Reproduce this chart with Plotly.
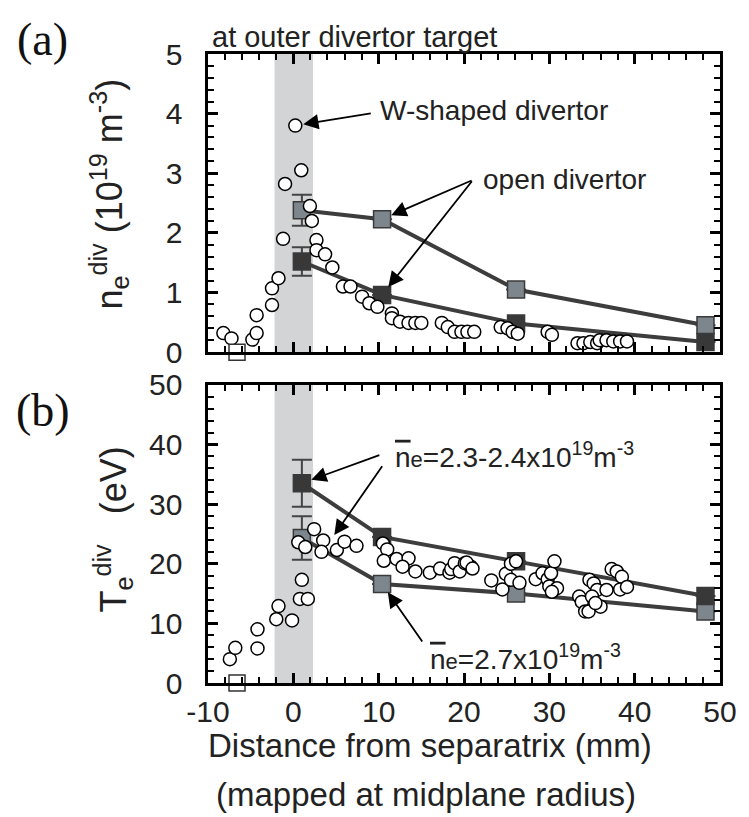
import plotly.graph_objects as go

# ---------------- data ----------------
ne_W_x = [-8.2, -7.25, -4.8, -4.3, -4.3, -2.5, -2.5, -1.74, -1.2, -0.97, 0.23, 0.93, 1.94, 2.17,
          2.71, 2.71, 3.72, 4.57, 5.81, 6.7, 8.06, 8.9, 9.85, 11.55, 11.55, 12.5, 13.5, 14.3, 15.0,
          17.4, 18.1, 18.9, 19.7, 20.4, 21.2, 24.3, 25.1, 25.7, 26.3, 29.8, 30.3, 33.3, 34.0, 34.8,
          35.6, 35.9, 36.7, 37.5, 38.3, 39.1]
ne_W_y = [0.32, 0.23, 0.21, 0.32, 0.62, 0.79, 1.07, 1.24, 1.90, 2.82, 3.80, 3.05, 2.45, 2.20,
          1.88, 1.71, 1.64, 1.42, 1.10, 1.10, 0.93, 0.82, 0.76, 0.65, 0.57, 0.51, 0.49, 0.49, 0.49,
          0.49, 0.42, 0.34, 0.34, 0.34, 0.34, 0.42, 0.40, 0.34, 0.31, 0.34, 0.29, 0.15, 0.15, 0.17,
          0.15, 0.20, 0.20, 0.18, 0.18, 0.18]

probe_x = [1.0, 10.4, 26.1, 48.3]
ne_hi = [2.38, 2.23, 1.05, 0.45]          # ne_bar = 2.7 (gray)
ne_hi_err = [0.26, None, None, None]
ne_lo = [1.52, 0.96, 0.48, 0.17]          # ne_bar = 2.3-2.4 (dark)
ne_lo_err = [0.24, None, None, None]

ref_x = [-6.6]
ref_y = [0.0]

Te_W_x = [-7.44, -6.8, -4.2, -4.2, -2.0, -1.74, -0.15, 0.77, 1.7, 1.0, 0.58, 1.4, 2.44, 3.5, 3.3,
          5.1, 6.0, 7.4, 10.5, 11.0, 10.6, 12.1, 13.5, 12.8, 14.3, 16.0, 17.2, 18.3, 18.5, 18.9,
          19.5, 20.1, 20.8, 20.3, 21.0, 23.2, 24.5, 24.9, 25.5, 25.5, 26.1, 26.5, 28.4, 29.2, 29.8,
          30.2, 30.6, 30.0, 30.9, 30.3, 33.5, 33.8, 34.2, 34.6, 34.7, 35.2, 35.6, 36.0, 35.0, 35.4,
          36.7, 37.3, 37.9, 38.5, 38.3, 39.1]
Te_W_y = [4.0, 5.9, 5.8, 9.0, 10.7, 12.9, 10.5, 14.1, 14.1, 17.3, 23.6, 22.8, 25.8, 23.9, 22.0,
          22.3, 23.7, 23.0, 23.4, 22.4, 20.5, 20.8, 20.9, 19.5, 18.7, 18.5, 19.2, 18.5, 19.1, 20.1,
          18.7, 20.1, 19.5, 20.2, 19.2, 17.2, 15.7, 18.3, 17.3, 20.0, 20.4, 16.8, 17.4, 18.4, 17.4,
          18.4, 20.4, 16.2, 15.9, 15.3, 14.5, 13.6, 12.0, 12.0, 17.3, 16.7, 15.6, 12.8, 14.5, 13.4,
          15.6, 19.1, 18.7, 17.8, 15.7, 16.1]

Te_lo = [33.5, 24.5, 20.4, 14.6]          # ne_bar = 2.3-2.4 (dark)
Te_lo_err = [3.95, None, None, None]
Te_hi = [24.3, 16.6, 15.0, 12.0]          # ne_bar = 2.7 (gray)
Te_hi_err = [3.65, None, None, None]

band = [-2.2, 2.3]                        # shaded separatrix region (mm)
x_range = [-10, 50]
ne_range = [0, 5]
Te_range = [0, 50]

x_ticks = [-10, 0, 10, 20, 30, 40, 50]
x_ticktext = ["-10", "0", "10", "20", "30", "40", "50"]
ne_ticks = [0, 1, 2, 3, 4, 5]
ne_ticktext = ["0", "1", "2", "3", "4", "5"]
Te_ticks = [0, 10, 20, 30, 40, 50]
Te_ticktext = ["0", "10", "20", "30", "40", "50"]

# ---------------- layout geometry / styles ----------------
W, H = 749, 817
M = dict(l=208, r=26, t=54, b=134)
PLOT_W = W - M["l"] - M["r"]
PLOT_H = H - M["t"] - M["b"]
dom_a = [0.526, 1]
dom_b = [0, 0.474]
PX_X = PLOT_W / (x_range[1] - x_range[0])
PX_YA = PLOT_H * (dom_a[1] - dom_a[0]) / (ne_range[1] - ne_range[0])
PX_YB = PLOT_H * (dom_b[1] - dom_b[0]) / (Te_range[1] - Te_range[0])

DARK = "#383838"
GRAY = "#7e868d"
LINE = "#3d3d3d"
FONT = "Liberation Sans"
NB = "\u00a0\u00a0"

fig = go.Figure()

def band_fill(yr, xa, ya):
    fig.add_trace(go.Scatter(x=[band[0], band[1], band[1], band[0], band[0]],
                             y=[yr[0], yr[0], yr[1], yr[1], yr[0]],
                             mode="lines", fill="toself", fillcolor="#d3d4d6",
                             line=dict(width=0, color="#d3d4d6"),
                             xaxis=xa, yaxis=ya, showlegend=False, hoverinfo="skip"))

def probe_series(xs, ys, err, fill, xa, ya):
    fig.add_trace(go.Scatter(x=xs, y=ys, mode="lines+markers",
                             line=dict(color=LINE, width=4),
                             marker=dict(symbol="square", size=17, color=fill,
                                         line=dict(color="#3a3a3a", width=1.5)),
                             error_y=dict(type="data", array=err, color="#444444",
                                          thickness=2, width=10),
                             xaxis=xa, yaxis=ya, showlegend=False, cliponaxis=False))

def circles(xs, ys, xa, ya):
    fig.add_trace(go.Scatter(x=xs, y=ys, mode="markers",
                             marker=dict(symbol="circle", size=13, color="white",
                                         line=dict(color="black", width=1.5)),
                             xaxis=xa, yaxis=ya, showlegend=False, cliponaxis=False))

def ref_square(xa, ya):
    fig.add_trace(go.Scatter(x=ref_x, y=ref_y, mode="markers",
                             marker=dict(symbol="square", size=16, color="white",
                                         line=dict(color="#333333", width=1.5)),
                             xaxis=xa, yaxis=ya, showlegend=False, cliponaxis=False))

band_fill(ne_range, "x", "y")
probe_series(probe_x, ne_hi, ne_hi_err, GRAY, "x", "y")
probe_series(probe_x, ne_lo, ne_lo_err, DARK, "x", "y")
circles(ne_W_x, ne_W_y, "x", "y")
ref_square("x", "y")

band_fill(Te_range, "x2", "y2")
probe_series(probe_x, Te_hi, Te_hi_err, GRAY, "x2", "y2")
probe_series(probe_x, Te_lo, Te_lo_err, DARK, "x2", "y2")
circles(Te_W_x, Te_W_y, "x2", "y2")
ref_square("x2", "y2")

def ax_style(minor_dtick, **kw):
    d = dict(showline=True, linewidth=3, linecolor="black", mirror="allticks",
             ticks="inside", ticklen=10, tickwidth=3, tickcolor="black",
             showgrid=False, zeroline=False,
             minor=dict(ticks="inside", dtick=minor_dtick, ticklen=6, tickwidth=2,
                        tickcolor="black"),
             tickfont=dict(family=FONT, size=30, color="#222222"))
    d.update(kw)
    return d

fig.update_layout(
    width=W, height=H, margin=M, plot_bgcolor="white",
    xaxis=ax_style(2, domain=[0, 1], anchor="y", range=x_range, tickvals=x_ticks,
                   showticklabels=False),
    yaxis=ax_style(0.2, domain=dom_a, anchor="x", range=ne_range, tickvals=ne_ticks,
                   ticktext=[t + NB for t in ne_ticktext]),
    xaxis2=ax_style(2, domain=[0, 1], anchor="y2", range=x_range, tickvals=x_ticks,
                    ticktext=x_ticktext),
    yaxis2=ax_style(2, domain=dom_b, anchor="x2", range=Te_range, tickvals=Te_ticks,
                    ticktext=[t + NB for t in Te_ticktext]),
)

TXT = dict(family=FONT, size=28, color="#222222")
C = dict(xanchor="center", yanchor="middle", showarrow=False)
anns = []
anns.append(dict(text="(a)", x=(42 - 208) / 515, y=(683 - 40) / 629, xref="paper", yref="paper",
                 font=dict(family="Liberation Serif", size=46, color="#111111"), **C))
anns.append(dict(text="(b)", x=(42 - 208) / 515, y=(683 - 410) / 629, xref="paper", yref="paper",
                 font=dict(family="Liberation Serif", size=46, color="#111111"), **C))
anns.append(dict(text="at outer divertor target", x=(210 - 208) / 515, y=(683 - 37) / 629,
                 xref="paper", yref="paper", xanchor="left", yanchor="middle", showarrow=False,
                 font=dict(family=FONT, size=29, color="#222222")))
anns.append(dict(text="n<sub>e</sub><sup>div</sup> (10<sup>19</sup> m<sup>-3</sup>)",
                 x=(108 - 208) / 515, y=(683 - 194) / 629, xref="paper", yref="paper",
                 textangle=-90, font=dict(family=FONT, size=36, color="#222222"), **C))
anns.append(dict(text="T<sub>e</sub><sup>div</sup>   (eV)",
                 x=(112 - 208) / 515, y=(683 - 530) / 629, xref="paper", yref="paper",
                 textangle=-90, font=dict(family=FONT, size=36, color="#222222"), **C))
anns.append(dict(text="Distance from separatrix (mm)", x=(431 - 208) / 515, y=(683 - 745) / 629,
                 xref="paper", yref="paper", font=dict(family=FONT, size=33, color="#222222"), **C))
anns.append(dict(text="(mapped at midplane radius)", x=(427 - 208) / 515, y=(683 - 794) / 629,
                 xref="paper", yref="paper", font=dict(family=FONT, size=33, color="#222222"), **C))

anns.append(dict(text="W-shaped divertor", x=9.9, y=4.06, xref="x", yref="y", xanchor="left",
                 yanchor="middle", showarrow=False, font=TXT))
anns.append(dict(text="open divertor", x=22.0, y=2.89, xref="x", yref="y", xanchor="left",
                 yanchor="middle", showarrow=False, font=TXT))

arrow = dict(showarrow=True, arrowhead=2, arrowsize=1.7, arrowwidth=1.8, arrowcolor="black", text="")

def arrow_ann(tip_x, tip_y, tail_x, tail_y, xr, yr, px_y, standoff):
    # tail given in data units, converted to pixel offsets from the tip
    return dict(x=tip_x, y=tip_y, xref=xr, yref=yr,
                ax=(tail_x - tip_x) * PX_X, ay=-(tail_y - tip_y) * px_y,
                standoff=standoff, **arrow)

anns.append(arrow_ann(ne_W_x[10], ne_W_y[10], 9.2, 4.01, "x", "y", PX_YA, 8))
anns.append(arrow_ann(probe_x[1], ne_hi[1], 21.0, 2.89, "x", "y", PX_YA, 10))
anns.append(arrow_ann(probe_x[1], ne_lo[1], 21.0, 2.89, "x", "y", PX_YA, 10))

nbar = "<span style='text-decoration:overline'>n</span><span style='font-size:22px'>e</span>"
anns.append(dict(text=nbar + "=2.3-2.4x10<sup>19</sup>m<sup>-3</sup>",
                 x=11.7, y=38.3, xref="x2", yref="y2", xanchor="left", yanchor="middle",
                 showarrow=False, font=TXT))
anns.append(dict(text=nbar + "=2.7x10<sup>19</sup>m<sup>-3</sup>",
                 x=15.8, y=4.4, xref="x2", yref="y2", xanchor="left", yanchor="middle",
                 showarrow=False, font=TXT))
anns.append(arrow_ann(probe_x[0], Te_lo[0], 10.2, 38.3, "x2", "y2", PX_YB, 10))
anns.append(arrow_ann(4.8, 24.8, 10.5, 36.6, "x2", "y2", PX_YB, 0))
anns.append(arrow_ann(probe_x[1], Te_hi[1], 15.2, 6.7, "x2", "y2", PX_YB, 10))

fig.update_layout(annotations=anns)
fig.write_html("out.html")
